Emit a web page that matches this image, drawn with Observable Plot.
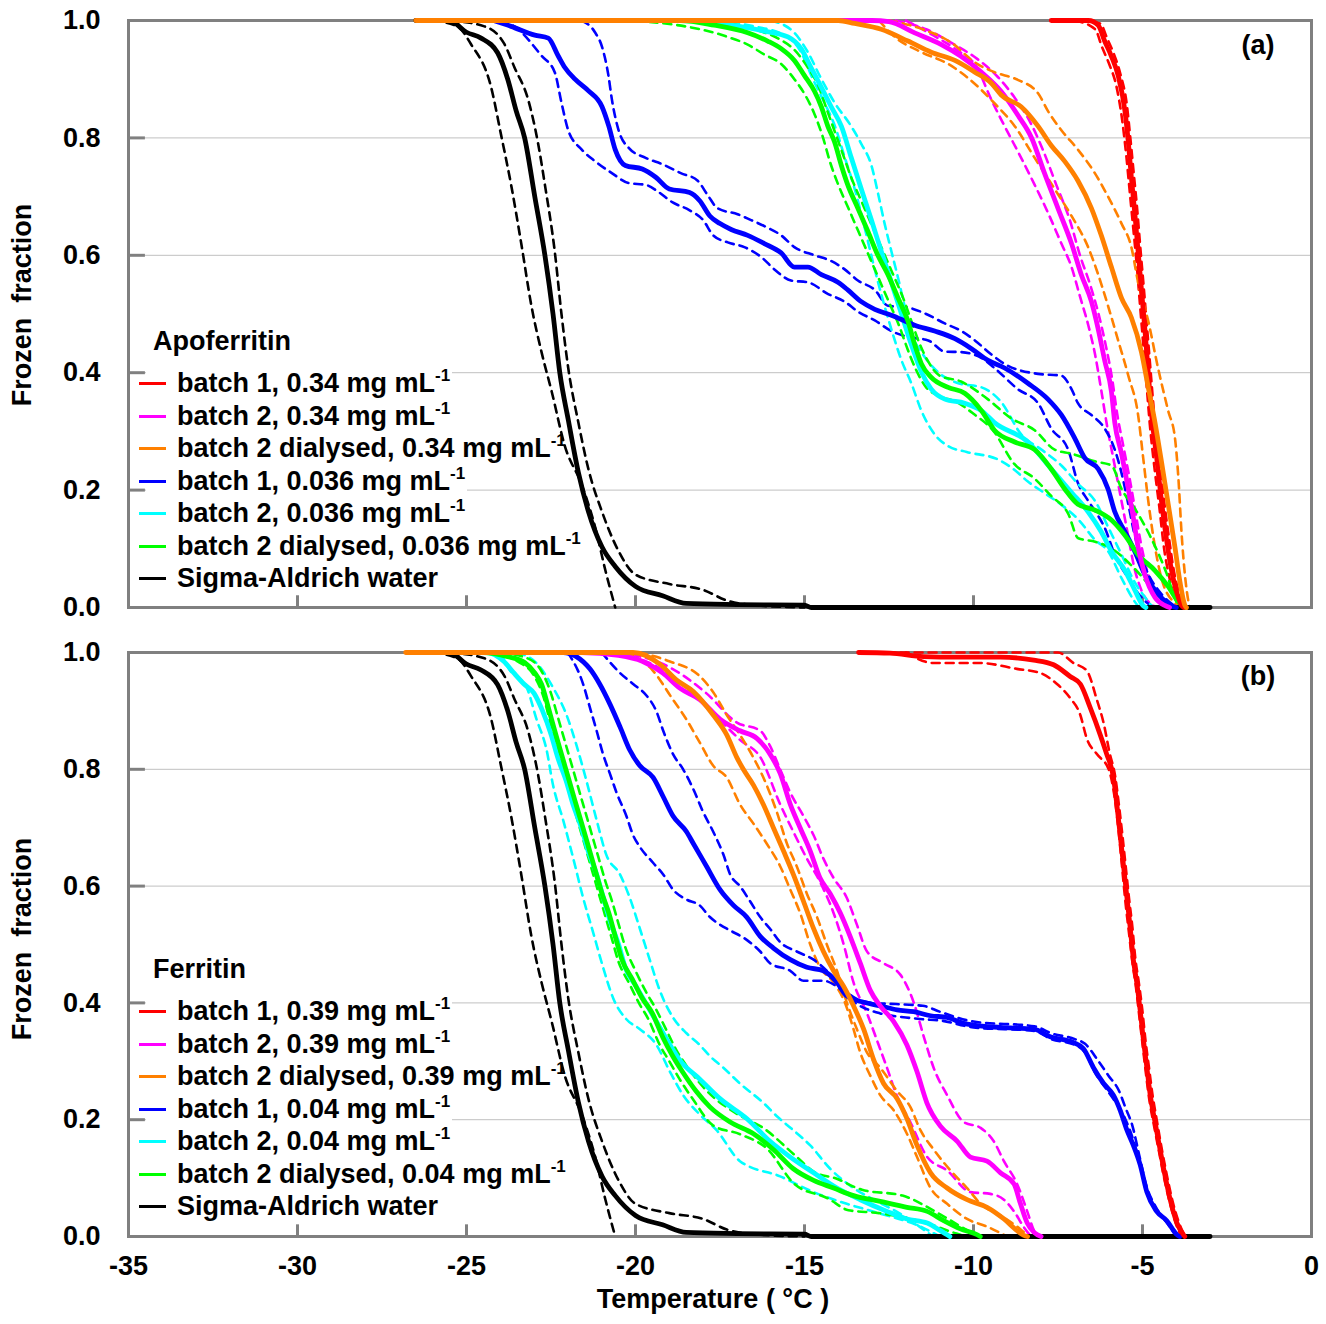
<!DOCTYPE html>
<html><head><meta charset="utf-8">
<script src="https://cdn.jsdelivr.net/npm/d3@7"></script>
<script src="https://cdn.jsdelivr.net/npm/@observablehq/plot@0.6"></script>
<style>
body{margin:0;background:#fff;}
#root{position:relative;width:1326px;height:1324px;overflow:hidden;font-family:"Liberation Sans",Arial,sans-serif;font-weight:bold;color:#000;background:#fff;}
.lab{position:absolute;font-size:27px;white-space:pre;transform:translate(-50%,-50%);line-height:1;}
.ylab{position:absolute;font-size:27px;white-space:pre;transform:translate(-50%,-50%) rotate(-90deg);line-height:1;}
.row{position:absolute;left:146px;height:30px;line-height:30px;padding-left:31px;padding-right:2px;background:#fff;font-size:27px;white-space:pre;}
.ttl{position:absolute;left:153px;height:30px;line-height:30px;font-size:27px;white-space:pre;}
.sw{position:absolute;left:139px;width:27px;height:3px;}
.sup{font-size:17px;position:relative;top:-11px;}
</style></head><body><div id="root"></div><script>
// ---------- axes / labels ----------
const xTicks = [-35, -30, -25, -20, -15, -10, -5, 0];
const yTicks = [0, 0.2, 0.4, 0.6, 0.8, 1.0];
const gridVals = [0.2, 0.4, 0.6, 0.8];
const colors = ["#FF0000", "#FF00FF", "#FF8000", "#0000FF", "#00FFFF", "#00FF00", "#000000"];
const legendA = ["batch 1, 0.34 mg mL", "batch 2, 0.34 mg mL", "batch 2 dialysed, 0.34 mg mL", "batch 1, 0.036 mg mL", "batch 2, 0.036 mg mL", "batch 2 dialysed, 0.036 mg mL", "Sigma-Aldrich water"];
const legendB = ["batch 1, 0.39 mg mL", "batch 2, 0.39 mg mL", "batch 2 dialysed, 0.39 mg mL", "batch 1, 0.04 mg mL", "batch 2, 0.04 mg mL", "batch 2 dialysed, 0.04 mg mL", "Sigma-Aldrich water"];
const titles = ["Apoferritin", "Ferritin"];
const panelLabels = ["(a)", "(b)"];
const yLabel = "Frozen  fraction";
const xLabel = "Temperature ( °C )";

// ---------- shared water data ([T °C, frozen fraction]) ----------
const water = [[-26.5,1],[-25.5,1],[-25,0.98],[-24.57,0.97],[-24.08,0.945],[-23.78,0.9],[-23.53,0.846],[-23.28,0.8],[-22.98,0.7],[-22.68,0.6],[-22.44,0.5],[-22.24,0.4],[-21.99,0.32],[-21.69,0.23],[-21.39,0.163],[-20.99,0.103],[-20.6,0.07],[-20.0,0.036],[-19.2,0.02],[-18.5,0.007],[-17.0,0.005],[-15.0,0.004],[-14.8,0],[-3.0,0]];
const waterLo = [[-26.0,1],[-25.27,0.99],[-24.87,0.96],[-24.27,0.886],[-23.98,0.806],[-23.68,0.72],[-23.38,0.62],[-23.08,0.514],[-22.78,0.435],[-22.48,0.368],[-22.09,0.275],[-21.59,0.209],[-21.19,0.136],[-20.89,0.063],[-20.6,0]];
const waterHi = [[-25.5,1],[-24.47,0.99],[-23.88,0.96],[-23.58,0.92],[-23.18,0.866],[-22.88,0.79],[-22.68,0.72],[-22.39,0.607],[-22.19,0.5],[-21.99,0.408],[-21.69,0.315],[-21.39,0.235],[-20.99,0.163],[-20.5,0.096],[-20.0,0.056],[-19.0,0.04],[-18.0,0.03],[-17.3,0.012],[-16.5,0.004],[-15.0,0]];

// ---------- panel (a): apoferritin ----------
const aRed = [[-7.7,1],[-6.6,1],[-6.31,0.992],[-6.12,0.965],[-5.92,0.939],[-5.72,0.906],[-5.52,0.846],[-5.42,0.793],[-5.33,0.733],[-5.23,0.673],[-5.13,0.607],[-5.03,0.541],[-4.93,0.474],[-4.83,0.401],[-4.73,0.328],[-4.58,0.255],[-4.44,0.182],[-4.29,0.116],[-4.14,0.063],[-3.94,0.017],[-3.84,0.003],[-3.78,0]];
const aRedLo = [[-7.0,1],[-6.4,0.985],[-6.2,0.955],[-5.98,0.925],[-5.78,0.89],[-5.6,0.83],[-5.48,0.77],[-5.38,0.71],[-5.28,0.65],[-5.18,0.59],[-5.08,0.52],[-4.98,0.45],[-4.88,0.38],[-4.78,0.31],[-4.65,0.24],[-4.5,0.17],[-4.36,0.1],[-4.2,0.05],[-4.0,0.012],[-3.9,0]];
const aRedHi = [[-6.9,1],[-6.25,0.995],[-6.05,0.97],[-5.86,0.945],[-5.66,0.91],[-5.46,0.855],[-5.36,0.8],[-5.26,0.74],[-5.16,0.68],[-5.06,0.61],[-4.97,0.55],[-4.87,0.48],[-4.77,0.41],[-4.67,0.34],[-4.52,0.265],[-4.38,0.19],[-4.22,0.12],[-4.08,0.065],[-3.88,0.018],[-3.74,0]];
const aMag = [[-26,1],[-13,1],[-12.5,0.998],[-11.74,0.979],[-10.95,0.959],[-10.37,0.939],[-9.77,0.912],[-9.18,0.879],[-8.69,0.839],[-8.28,0.8],[-7.9,0.74],[-7.5,0.68],[-7.1,0.62],[-6.81,0.567],[-6.51,0.521],[-6.31,0.474],[-6.12,0.421],[-5.92,0.368],[-5.82,0.315],[-5.62,0.262],[-5.42,0.202],[-5.28,0.156],[-5.13,0.103],[-4.93,0.056],[-4.63,0.017],[-4.33,0.003],[-4.2,0]];
const aMagLo = [[-12.0,1],[-11.2,0.975],[-10.5,0.95],[-9.9,0.92],[-9.48,0.866],[-9.08,0.82],[-8.59,0.766],[-8.19,0.72],[-7.8,0.673],[-7.4,0.62],[-7.1,0.58],[-6.85,0.53],[-6.6,0.48],[-6.4,0.43],[-6.22,0.37],[-6.05,0.31],[-5.85,0.25],[-5.65,0.19],[-5.45,0.13],[-5.25,0.07],[-5.0,0.025],[-4.7,0.004],[-4.5,0]];
const aMagHi = [[-12.3,1],[-11.4,0.985],[-10.6,0.96],[-9.9,0.935],[-9.3,0.905],[-8.8,0.87],[-8.35,0.83],[-7.95,0.78],[-7.55,0.72],[-7.15,0.66],[-6.85,0.6],[-6.55,0.55],[-6.3,0.5],[-6.1,0.45],[-5.9,0.39],[-5.75,0.33],[-5.55,0.27],[-5.35,0.21],[-5.2,0.16],[-5.05,0.11],[-4.85,0.06],[-4.55,0.02],[-4.2,0]];
const aOrg = [[-26.5,1],[-14,1],[-13.52,0.995],[-12.73,0.985],[-11.94,0.965],[-11.25,0.946],[-10.55,0.932],[-9.96,0.912],[-9.47,0.893],[-9.18,0.873],[-8.59,0.853],[-8.09,0.82],[-7.7,0.787],[-7.3,0.76],[-6.91,0.727],[-6.51,0.68],[-6.22,0.634],[-5.92,0.58],[-5.62,0.527],[-5.33,0.494],[-5.03,0.435],[-4.83,0.375],[-4.63,0.315],[-4.44,0.249],[-4.24,0.176],[-4.04,0.103],[-3.89,0.043],[-3.74,0.003],[-3.7,0]];
const aOrgLo = [[-12.8,1],[-12.33,0.972],[-11.54,0.946],[-10.75,0.926],[-10.16,0.902],[-9.38,0.859],[-8.78,0.82],[-8.19,0.766],[-7.6,0.713],[-7.1,0.667],[-6.61,0.614],[-6.31,0.567],[-6.02,0.514],[-5.72,0.455],[-5.42,0.395],[-5.13,0.328],[-4.98,0.255],[-4.83,0.182],[-4.63,0.103],[-4.44,0.05],[-4.04,0.007],[-3.9,0]];
const aOrgHi = [[-12.5,1],[-11.5,0.985],[-10.6,0.96],[-10.0,0.93],[-9.38,0.912],[-8.69,0.899],[-8.09,0.876],[-7.8,0.846],[-7.4,0.813],[-6.91,0.78],[-6.41,0.74],[-6.02,0.7],[-5.62,0.654],[-5.33,0.614],[-5.13,0.554],[-4.83,0.488],[-4.54,0.408],[-4.24,0.335],[-4.04,0.289],[-3.94,0.222],[-3.84,0.123],[-3.64,0.01],[-3.6,0]];
const aBlue = [[-24.2,1],[-23.68,0.99],[-22.98,0.975],[-22.58,0.97],[-22.29,0.94],[-22.09,0.92],[-21.79,0.9],[-21.39,0.88],[-20.99,0.853],[-20.79,0.82],[-20.6,0.78],[-20.3,0.753],[-19.8,0.747],[-19.4,0.733],[-19.0,0.713],[-18.4,0.707],[-18.1,0.693],[-17.8,0.667],[-17.5,0.654],[-17.17,0.644],[-16.68,0.634],[-16.19,0.62],[-15.69,0.604],[-15.3,0.58],[-14.9,0.58],[-14.5,0.567],[-14.01,0.554],[-13.72,0.541],[-13.32,0.521],[-12.92,0.508],[-12.43,0.498],[-11.74,0.481],[-11.15,0.471],[-10.55,0.458],[-10.06,0.441],[-9.57,0.421],[-9.08,0.408],[-8.39,0.382],[-7.8,0.355],[-7.4,0.328],[-7.01,0.289],[-6.71,0.255],[-6.31,0.236],[-6.02,0.202],[-5.82,0.163],[-5.52,0.129],[-5.23,0.096],[-4.93,0.056],[-4.54,0.023],[-4.14,0.003],[-4.0,0]];
const aBlueHi = [[-21.6,1],[-21.2,0.98],[-20.99,0.955],[-20.8,0.906],[-20.7,0.866],[-20.5,0.813],[-20.2,0.783],[-19.7,0.766],[-19.2,0.755],[-18.66,0.74],[-18.16,0.727],[-17.87,0.703],[-17.57,0.68],[-16.98,0.67],[-16.58,0.66],[-16.09,0.647],[-15.69,0.634],[-15.3,0.614],[-14.7,0.6],[-14.2,0.59],[-13.81,0.576],[-13.42,0.557],[-12.92,0.541],[-12.53,0.514],[-11.94,0.511],[-11.44,0.501],[-10.85,0.484],[-10.36,0.471],[-9.96,0.455],[-9.47,0.431],[-9.08,0.415],[-8.09,0.398],[-7.4,0.395],[-7.1,0.372],[-6.91,0.348],[-6.51,0.328],[-6.12,0.305],[-5.82,0.269],[-5.62,0.229],[-5.42,0.176],[-5.23,0.123],[-4.93,0.07],[-4.44,0.023],[-4.04,0.003],[-3.9,0]];
const aBlueLo = [[-24.0,1],[-23.58,0.99],[-22.78,0.94],[-22.39,0.912],[-22.19,0.86],[-21.99,0.813],[-21.59,0.78],[-21.19,0.76],[-20.7,0.74],[-20.2,0.723],[-19.7,0.72],[-19.3,0.707],[-18.9,0.69],[-18.41,0.677],[-18.0,0.66],[-17.7,0.634],[-17.27,0.622],[-16.78,0.614],[-16.28,0.597],[-15.89,0.576],[-15.4,0.557],[-14.9,0.554],[-14.3,0.534],[-13.81,0.521],[-13.42,0.504],[-12.92,0.489],[-12.43,0.471],[-11.94,0.461],[-11.34,0.455],[-10.85,0.436],[-10.36,0.435],[-9.76,0.425],[-9.38,0.408],[-8.69,0.372],[-8.09,0.348],[-7.7,0.305],[-7.2,0.269],[-6.91,0.212],[-6.61,0.182],[-6.31,0.156],[-6.12,0.136],[-5.82,0.09],[-5.42,0.05],[-5.03,0.017],[-4.73,0.003],[-4.6,0]];
const aCyan = [[-26,1],[-18.66,1],[-17.17,0.992],[-16.19,0.982],[-15.49,0.972],[-15.1,0.952],[-14.8,0.919],[-14.5,0.886],[-14.21,0.853],[-13.91,0.82],[-13.62,0.767],[-13.32,0.713],[-13.02,0.66],[-12.73,0.607],[-12.43,0.554],[-12.13,0.5],[-11.84,0.448],[-11.54,0.401],[-11.25,0.372],[-10.85,0.355],[-10.26,0.348],[-9.76,0.335],[-9.38,0.315],[-8.39,0.282],[-7.7,0.236],[-7.1,0.196],[-6.61,0.163],[-6.22,0.129],[-5.92,0.096],[-5.52,0.063],[-5.23,0.03],[-4.98,0.003],[-4.9,0]];
const aCyanHi = [[-16.0,1],[-15.3,0.979],[-14.9,0.946],[-14.5,0.9],[-14.11,0.86],[-13.62,0.82],[-13.32,0.79],[-13.02,0.753],[-12.83,0.707],[-12.63,0.654],[-12.43,0.607],[-12.23,0.561],[-12.04,0.514],[-11.84,0.468],[-11.54,0.435],[-11.05,0.401],[-10.45,0.382],[-9.76,0.375],[-9.18,0.35],[-8.59,0.295],[-7.99,0.269],[-7.4,0.242],[-6.9,0.21],[-6.41,0.182],[-6.0,0.135],[-5.62,0.09],[-5.25,0.045],[-4.83,0.01],[-4.7,0]];
const aCyanLo = [[-18.0,1],[-16.5,0.99],[-15.6,0.975],[-15.1,0.946],[-14.75,0.9],[-14.41,0.86],[-14.1,0.82],[-13.81,0.767],[-13.5,0.71],[-13.22,0.647],[-12.97,0.587],[-12.73,0.534],[-12.43,0.474],[-12.13,0.421],[-11.84,0.382],[-11.54,0.335],[-11.15,0.295],[-10.75,0.275],[-10.2,0.265],[-9.27,0.252],[-8.8,0.235],[-8.4,0.215],[-7.9,0.195],[-7.4,0.175],[-6.9,0.15],[-6.4,0.115],[-6.02,0.096],[-5.62,0.05],[-5.23,0.01],[-5.1,0]];
const aGreen = [[-26,1],[-18.66,1],[-17.67,0.992],[-16.68,0.979],[-16.09,0.965],[-15.69,0.952],[-15.3,0.932],[-15.0,0.906],[-14.7,0.879],[-14.5,0.853],[-14.31,0.82],[-14.11,0.793],[-13.91,0.753],[-13.72,0.72],[-13.42,0.68],[-13.12,0.64],[-12.83,0.6],[-12.53,0.567],[-12.23,0.527],[-11.94,0.488],[-11.74,0.448],[-11.54,0.415],[-11.25,0.392],[-10.75,0.375],[-10.26,0.365],[-9.76,0.335],[-9.38,0.302],[-8.78,0.282],[-8.19,0.269],[-7.7,0.236],[-7.3,0.202],[-6.91,0.176],[-6.41,0.166],[-5.92,0.149],[-5.52,0.123],[-5.13,0.09],[-4.63,0.063],[-4.24,0.036],[-3.94,0.01],[-3.74,0]];
const aGreenLo = [[-20.0,1],[-17.27,0.972],[-16.68,0.959],[-16.19,0.942],[-15.69,0.926],[-15.3,0.9],[-14.95,0.87],[-14.7,0.84],[-14.45,0.8],[-14.25,0.76],[-14.0,0.72],[-13.7,0.68],[-13.4,0.64],[-13.1,0.6],[-12.8,0.56],[-12.5,0.52],[-12.2,0.48],[-11.95,0.44],[-11.7,0.405],[-11.4,0.375],[-11.0,0.36],[-10.5,0.35],[-10.0,0.33],[-9.4,0.3],[-8.8,0.245],[-8.2,0.22],[-7.7,0.19],[-7.2,0.16],[-6.9,0.118],[-6.4,0.112],[-5.9,0.1],[-5.3,0.07],[-4.6,0.025],[-4.2,0]];
const aGreenHi = [[-18.0,1],[-16.5,0.985],[-15.8,0.97],[-15.3,0.95],[-14.9,0.92],[-14.6,0.89],[-14.35,0.85],[-14.1,0.81],[-13.85,0.77],[-13.6,0.73],[-13.3,0.69],[-13.0,0.65],[-12.7,0.61],[-12.4,0.57],[-12.1,0.53],[-11.85,0.49],[-11.6,0.45],[-11.35,0.42],[-11.0,0.395],[-10.37,0.385],[-9.58,0.355],[-8.88,0.322],[-8.19,0.302],[-7.6,0.269],[-7.1,0.262],[-6.41,0.249],[-5.92,0.242],[-5.62,0.202],[-5.23,0.169],[-4.76,0.12],[-4.3,0.06],[-4.0,0.01],[-3.9,0]];

// ---------- panel (b): ferritin ----------
const bRed = [[-13.4,1],[-12.47,0.999],[-11.48,0.993],[-10.49,0.992],[-9.21,0.992],[-8.22,0.987],[-7.63,0.979],[-7.14,0.959],[-6.84,0.946],[-6.55,0.906],[-6.25,0.859],[-6.06,0.826],[-5.86,0.786],[-5.76,0.74],[-5.66,0.687],[-5.56,0.634],[-5.46,0.58],[-5.36,0.527],[-5.27,0.474],[-5.17,0.435],[-5.07,0.388],[-4.97,0.335],[-4.87,0.289],[-4.77,0.242],[-4.63,0.196],[-4.48,0.149],[-4.33,0.103],[-4.18,0.063],[-3.98,0.023],[-3.79,0.003],[-3.75,0]];
const bRedLo = [[-12.0,1],[-11.18,0.982],[-9.8,0.982],[-8.72,0.972],[-8.03,0.965],[-7.53,0.946],[-7.14,0.922],[-6.84,0.893],[-6.65,0.853],[-6.35,0.826],[-6.0,0.8],[-5.82,0.75],[-5.7,0.69],[-5.6,0.63],[-5.5,0.57],[-5.4,0.52],[-5.3,0.47],[-5.2,0.43],[-5.1,0.38],[-5.0,0.33],[-4.9,0.28],[-4.8,0.235],[-4.66,0.19],[-4.51,0.145],[-4.36,0.1],[-4.2,0.06],[-4.0,0.02],[-3.85,0]];
const bRedHi = [[-13.4,1],[-7.5,1],[-7.04,0.982],[-6.65,0.969],[-6.35,0.919],[-6.15,0.879],[-5.98,0.83],[-5.8,0.785],[-5.7,0.74],[-5.6,0.69],[-5.5,0.635],[-5.4,0.58],[-5.3,0.53],[-5.21,0.475],[-5.11,0.435],[-5.01,0.39],[-4.91,0.335],[-4.81,0.29],[-4.71,0.245],[-4.58,0.2],[-4.43,0.15],[-4.28,0.105],[-4.13,0.065],[-3.93,0.025],[-3.74,0]];
const bMag = [[-26.5,1],[-21.6,1],[-20.5,0.995],[-19.8,0.985],[-19.2,0.965],[-18.69,0.939],[-18.09,0.919],[-17.5,0.886],[-16.91,0.866],[-16.41,0.853],[-16.02,0.826],[-15.72,0.793],[-15.42,0.74],[-15.13,0.7],[-14.83,0.66],[-14.54,0.614],[-14.24,0.587],[-13.94,0.554],[-13.65,0.514],[-13.35,0.468],[-13.05,0.421],[-12.76,0.395],[-12.36,0.368],[-11.97,0.328],[-11.67,0.282],[-11.38,0.229],[-10.98,0.189],[-10.48,0.163],[-10.09,0.136],[-9.6,0.129],[-9.2,0.109],[-8.8,0.09],[-8.61,0.056],[-8.41,0.023],[-8.21,0.007],[-8.0,0]];
const bMagHi = [[-20.5,1],[-19.0,0.975],[-17.9,0.93],[-17.0,0.88],[-16.31,0.866],[-16.02,0.84],[-15.72,0.8],[-15.42,0.76],[-15.03,0.72],[-14.73,0.687],[-14.44,0.647],[-14.14,0.614],[-13.75,0.58],[-13.45,0.534],[-13.15,0.488],[-12.66,0.468],[-12.16,0.448],[-11.77,0.401],[-11.47,0.342],[-11.18,0.289],[-10.78,0.242],[-10.29,0.196],[-9.79,0.186],[-9.4,0.163],[-9.1,0.129],[-8.71,0.09],[-8.41,0.043],[-8.21,0.01],[-8.1,0]];
const bMagLo = [[-21.0,1],[-19.5,0.98],[-18.5,0.94],[-17.6,0.89],[-16.9,0.85],[-16.3,0.82],[-15.72,0.74],[-15.33,0.693],[-14.93,0.647],[-14.54,0.607],[-14.14,0.554],[-13.84,0.5],[-13.55,0.435],[-13.15,0.382],[-12.85,0.335],[-12.56,0.289],[-12.26,0.24],[-11.87,0.196],[-11.37,0.136],[-10.78,0.113],[-10.09,0.076],[-9.5,0.073],[-9.1,0.063],[-8.8,0.043],[-8.5,0.015],[-8.3,0]];
const bOrg = [[-26.8,1],[-20.07,1],[-19.28,0.98],[-18.79,0.953],[-18.29,0.933],[-17.7,0.893],[-17.3,0.859],[-17.0,0.82],[-16.81,0.8],[-16.51,0.773],[-16.22,0.74],[-15.92,0.7],[-15.62,0.66],[-15.33,0.62],[-15.03,0.574],[-14.73,0.527],[-14.44,0.488],[-14.14,0.455],[-13.84,0.428],[-13.55,0.395],[-13.25,0.355],[-12.95,0.302],[-12.66,0.262],[-12.26,0.236],[-11.97,0.202],[-11.67,0.156],[-11.27,0.109],[-10.78,0.083],[-10.19,0.063],[-9.6,0.05],[-9.1,0.03],[-8.71,0.01],[-8.51,0.002],[-8.4,0]];
const bOrgLo = [[-20.3,1],[-19.5,0.97],[-18.9,0.92],[-18.5,0.886],[-18.1,0.846],[-17.7,0.806],[-17.3,0.786],[-16.91,0.74],[-16.51,0.707],[-16.12,0.673],[-15.72,0.634],[-15.42,0.594],[-15.13,0.554],[-14.83,0.5],[-14.54,0.461],[-14.14,0.435],[-13.8,0.4],[-13.55,0.355],[-13.35,0.315],[-13.05,0.275],[-12.76,0.242],[-12.36,0.216],[-11.97,0.176],[-11.67,0.136],[-11.27,0.083],[-10.78,0.056],[-10.19,0.03],[-9.6,0.017],[-9.2,0.006],[-9.0,0]];
const bOrgHi = [[-19.9,1],[-19.0,0.985],[-18.09,0.959],[-17.7,0.932],[-17.3,0.893],[-16.91,0.859],[-16.51,0.82],[-16.12,0.773],[-15.82,0.727],[-15.52,0.673],[-15.23,0.634],[-14.93,0.587],[-14.63,0.547],[-14.34,0.5],[-14.04,0.455],[-13.75,0.401],[-13.45,0.355],[-13.15,0.315],[-12.76,0.289],[-12.26,0.249],[-11.87,0.222],[-11.57,0.182],[-11.18,0.149],[-10.68,0.113],[-10.19,0.083],[-9.79,0.056],[-9.2,0.036],[-8.71,0.017],[-8.4,0.003],[-8.3,0]];
const bBlue = [[-26,1],[-22.14,1],[-21.75,0.993],[-21.35,0.972],[-21.06,0.946],[-20.76,0.912],[-20.46,0.873],[-20.17,0.833],[-19.87,0.806],[-19.48,0.786],[-19.18,0.753],[-18.89,0.72],[-18.49,0.693],[-18.29,0.673],[-17.9,0.634],[-17.5,0.594],[-17.1,0.567],[-16.71,0.547],[-16.31,0.514],[-15.92,0.494],[-15.42,0.474],[-14.93,0.461],[-14.44,0.455],[-14.04,0.435],[-13.75,0.412],[-13.25,0.401],[-12.76,0.395],[-12.26,0.388],[-11.77,0.385],[-11.27,0.378],[-10.78,0.375],[-10.29,0.365],[-10.0,0.362],[-9.2,0.358],[-8.22,0.355],[-7.73,0.342],[-7.04,0.332],[-6.75,0.322],[-6.45,0.289],[-6.15,0.262],[-5.86,0.242],[-5.66,0.216],[-5.46,0.182],[-5.27,0.156],[-5.07,0.123],[-4.87,0.076],[-4.58,0.043],[-4.28,0.027],[-3.98,0.003],[-3.9,0]];
const bBlueLo = [[-22.0,1],[-21.55,0.946],[-21.35,0.906],[-21.15,0.866],[-20.96,0.826],[-20.76,0.793],[-20.56,0.76],[-20.27,0.72],[-20.07,0.687],[-19.87,0.667],[-19.48,0.64],[-19.18,0.62],[-18.89,0.594],[-18.49,0.577],[-18.1,0.567],[-17.8,0.547],[-17.5,0.534],[-17.2,0.524],[-16.71,0.508],[-16.31,0.488],[-16.02,0.468],[-15.42,0.455],[-15.03,0.438],[-14.44,0.438],[-14.04,0.428],[-13.5,0.4],[-12.76,0.382],[-12.0,0.375],[-11.5,0.372],[-11.0,0.37],[-10.0,0.358],[-8.2,0.352],[-7.7,0.338],[-7.0,0.328],[-6.7,0.315],[-6.4,0.28],[-6.1,0.255],[-5.8,0.23],[-5.5,0.2],[-5.3,0.17],[-5.1,0.13],[-4.9,0.08],[-4.6,0.045],[-4.3,0.025],[-4.0,0]];
const bBlueHi = [[-21.0,1],[-20.46,0.965],[-20.07,0.946],[-19.67,0.926],[-19.38,0.899],[-19.18,0.866],[-18.89,0.826],[-18.59,0.8],[-18.29,0.766],[-18.0,0.727],[-17.7,0.693],[-17.4,0.654],[-17.2,0.62],[-16.91,0.6],[-16.61,0.574],[-16.31,0.547],[-16.02,0.527],[-15.72,0.504],[-15.23,0.488],[-14.73,0.474],[-14.34,0.455],[-13.95,0.43],[-13.55,0.41],[-13.0,0.4],[-12.3,0.398],[-11.5,0.395],[-11.0,0.385],[-10.0,0.368],[-8.2,0.36],[-7.7,0.348],[-7.0,0.338],[-6.7,0.33],[-6.3,0.3],[-6.0,0.275],[-5.7,0.25],[-5.5,0.22],[-5.3,0.19],[-5.1,0.14],[-4.9,0.09],[-4.6,0.05],[-4.2,0.02],[-3.9,0]];
const bCyan = [[-26,1],[-24.4,1],[-23.9,0.985],[-23.6,0.965],[-23.3,0.946],[-23.0,0.93],[-22.75,0.9],[-22.5,0.86],[-22.3,0.82],[-22.05,0.78],[-21.85,0.74],[-21.6,0.7],[-21.4,0.66],[-21.15,0.62],[-20.95,0.58],[-20.75,0.54],[-20.5,0.5],[-20.3,0.46],[-20.0,0.43],[-19.7,0.4],[-19.4,0.37],[-19.0,0.33],[-18.69,0.302],[-18.09,0.269],[-17.5,0.236],[-16.71,0.202],[-16.02,0.163],[-15.42,0.136],[-14.73,0.109],[-14.04,0.083],[-13.35,0.063],[-12.56,0.043],[-11.97,0.03],[-11.37,0.023],[-10.98,0.01],[-10.78,0.003],[-10.7,0]];
const bCyanLo = [[-24.0,1],[-23.72,0.97],[-23.22,0.94],[-22.93,0.886],[-22.63,0.833],[-22.44,0.773],[-22.14,0.713],[-21.84,0.647],[-21.55,0.58],[-21.25,0.52],[-20.96,0.461],[-20.66,0.408],[-20.27,0.372],[-19.87,0.355],[-19.38,0.328],[-18.98,0.282],[-18.59,0.242],[-18.1,0.209],[-17.6,0.182],[-16.91,0.129],[-15.72,0.103],[-14.73,0.076],[-13.75,0.056],[-12.8,0.04],[-11.57,0.017],[-11.0,0]];
const bCyanHi = [[-23.5,1],[-22.9,0.98],[-22.44,0.94],[-22.04,0.893],[-21.74,0.84],[-21.45,0.78],[-21.15,0.713],[-20.86,0.653],[-20.46,0.62],[-20.17,0.58],[-19.87,0.527],[-19.58,0.474],[-19.28,0.421],[-18.89,0.375],[-18.49,0.348],[-18.1,0.328],[-17.8,0.309],[-17.4,0.289],[-16.91,0.262],[-16.22,0.229],[-15.8,0.205],[-15.33,0.182],[-14.83,0.156],[-14.24,0.116],[-13.6,0.085],[-12.95,0.063],[-12.2,0.04],[-11.6,0.017],[-11.2,0]];
const bGreen = [[-26,1],[-24.5,1],[-23.78,0.993],[-23.28,0.983],[-22.98,0.965],[-22.78,0.946],[-22.58,0.906],[-22.39,0.866],[-22.19,0.826],[-21.99,0.786],[-21.79,0.746],[-21.59,0.707],[-21.39,0.667],[-21.19,0.627],[-20.99,0.587],[-20.79,0.554],[-20.6,0.514],[-20.4,0.474],[-20.1,0.441],[-19.8,0.408],[-19.5,0.382],[-19.2,0.342],[-18.9,0.309],[-18.61,0.282],[-18.21,0.249],[-17.8,0.222],[-17.2,0.196],[-16.51,0.176],[-15.92,0.149],[-15.33,0.116],[-14.73,0.096],[-14.14,0.083],[-13.55,0.07],[-12.76,0.06],[-11.97,0.05],[-11.37,0.043],[-10.88,0.027],[-10.39,0.013],[-9.89,0.003],[-9.8,0]];
const bGreenLo = [[-24.3,1],[-23.5,0.985],[-23.0,0.96],[-22.7,0.92],[-22.5,0.875],[-22.3,0.835],[-22.1,0.79],[-21.9,0.75],[-21.7,0.71],[-21.5,0.67],[-21.3,0.63],[-21.1,0.59],[-20.9,0.55],[-20.7,0.51],[-20.5,0.47],[-20.2,0.435],[-19.9,0.4],[-19.6,0.37],[-19.3,0.33],[-19.0,0.3],[-18.7,0.27],[-18.3,0.235],[-17.7,0.19],[-16.9,0.175],[-16.1,0.15],[-15.3,0.09],[-14.3,0.065],[-13.7,0.045],[-12.8,0.04],[-11.5,0.025],[-10.5,0.005],[-10.2,0]];
const bGreenHi = [[-24.0,1],[-23.2,0.99],[-22.8,0.97],[-22.5,0.93],[-22.3,0.89],[-22.1,0.85],[-21.9,0.81],[-21.7,0.77],[-21.5,0.73],[-21.3,0.69],[-21.1,0.65],[-20.9,0.61],[-20.7,0.575],[-20.5,0.535],[-20.3,0.495],[-20.0,0.455],[-19.7,0.42],[-19.4,0.39],[-19.1,0.355],[-18.8,0.32],[-18.4,0.285],[-17.9,0.25],[-17.0,0.21],[-16.2,0.185],[-15.3,0.14],[-14.7,0.11],[-14.1,0.1],[-13.3,0.08],[-12.1,0.07],[-10.9,0.035],[-10.0,0.005],[-9.8,0]];

// ---------- build ----------
const seriesA = [
  {c: colors[0], s: aRed, lo: aRedLo, hi: aRedHi},
  {c: colors[1], s: aMag, lo: aMagLo, hi: aMagHi},
  {c: colors[2], s: aOrg, lo: aOrgLo, hi: aOrgHi},
  {c: colors[3], s: aBlue, lo: aBlueLo, hi: aBlueHi},
  {c: colors[4], s: aCyan, lo: aCyanLo, hi: aCyanHi},
  {c: colors[5], s: aGreen, lo: aGreenLo, hi: aGreenHi},
  {c: colors[6], s: water, lo: waterLo, hi: waterHi}
];
const seriesB = [
  {c: colors[0], s: bRed, lo: bRedLo, hi: bRedHi},
  {c: colors[1], s: bMag, lo: bMagLo, hi: bMagHi},
  {c: colors[2], s: bOrg, lo: bOrgLo, hi: bOrgHi},
  {c: colors[3], s: bBlue, lo: bBlueLo, hi: bBlueHi},
  {c: colors[4], s: bCyan, lo: bCyanLo, hi: bCyanHi},
  {c: colors[5], s: bGreen, lo: bGreenLo, hi: bGreenHi},
  {c: colors[6], s: water, lo: waterLo, hi: waterHi}
];
const drawOrder = [6, 4, 3, 5, 0, 1, 2];

const root = document.getElementById("root");
const FONT = "'Liberation Sans', Arial, sans-serif";
const X = d => d[0], Y = d => d[1];

function common(h, mt, mb) {
  return {width: 1326, height: h, marginLeft: 128, marginRight: 15, marginTop: mt, marginBottom: mb,
    x: {domain: [-35, 0], axis: null}, y: {domain: [0, 1], axis: null},
    style: {fontFamily: FONT, fontSize: "27px", fontWeight: "bold", color: "#000", background: "none", overflow: "visible"}};
}
function bgPlot(h, mt, mb, withX) {
  const marks = [
    Plot.ruleY(gridVals, {stroke: "#c0c0c0", strokeWidth: 1}),
    Plot.ruleX(xTicks, {x: d => d, y1: 0, y2: 0.02, stroke: "#808080", strokeWidth: 3}),
    Plot.ruleY(yTicks, {y: d => d, x1: -35, x2: -34.5, stroke: "#808080", strokeWidth: 3}),
    Plot.frame({stroke: "#808080", strokeWidth: 3}),
    Plot.axisY({ticks: yTicks, tickSize: 0, tickPadding: 28, tickFormat: d3.format(".1f"), label: null})
  ];
  if (withX) marks.push(Plot.axisX({ticks: xTicks, tickSize: 0, tickPadding: 19, tickFormat: d => String(d), label: null}));
  return Plot.plot({...common(h, mt, mb), marks});
}
function fgPlot(h, mt, mb, series) {
  const marks = [];
  for (const s of series) for (const d of [s.lo, s.hi])
    marks.push(Plot.line(d, {x: X, y: Y, stroke: s.c, strokeWidth: 2.6, strokeDasharray: "8,6", curve: "monotone-x"}));
  for (const i of drawOrder)
    marks.push(Plot.line(series[i].s, {x: X, y: Y, stroke: series[i].c, strokeWidth: 4.8, curve: "monotone-x"}));
  return Plot.plot({...common(h, mt, mb), marks});
}
function place(el, top) {
  el.style.position = "absolute"; el.style.left = "0px"; el.style.top = top + "px";
  root.appendChild(el);
}
function addDiv(cls, text, left, top) {
  const d = document.createElement("div");
  d.className = cls; d.textContent = text;
  if (left != null) d.style.left = left + "px";
  d.style.top = top + "px";
  root.appendChild(d);
  return d;
}
function legend(title, labels, titleY, rowYs) {
  addDiv("ttl", title, null, titleY - 15);
  labels.forEach((t, i) => {
    const r = addDiv("row", t, null, rowYs[i] - 15);
    if (i < 6) { const s = document.createElement("span"); s.className = "sup"; s.textContent = "-1"; r.appendChild(s); }
    const sw = document.createElement("div");
    sw.className = "sw"; sw.style.top = (rowYs[i] - 1.5) + "px"; sw.style.background = colors[i];
    root.appendChild(sw);
  });
}

place(bgPlot(630, 20, 23, false), 0);
place(bgPlot(694, 22, 88, true), 630);
legend(titles[0], legendA, 341, [383, 416, 448, 481, 513, 546, 578]);
legend(titles[1], legendB, 969, [1011, 1044, 1076, 1109, 1141, 1174, 1206]);
place(fgPlot(630, 20, 23, seriesA), 0);
place(fgPlot(694, 22, 88, seriesB), 630);

addDiv("lab", panelLabels[0], 1258, 45);
addDiv("lab", panelLabels[1], 1258, 676);
addDiv("ylab", yLabel, 22, 305);
addDiv("ylab", yLabel, 22, 939);
addDiv("lab", xLabel, 713, 1299);
</script></body></html>
